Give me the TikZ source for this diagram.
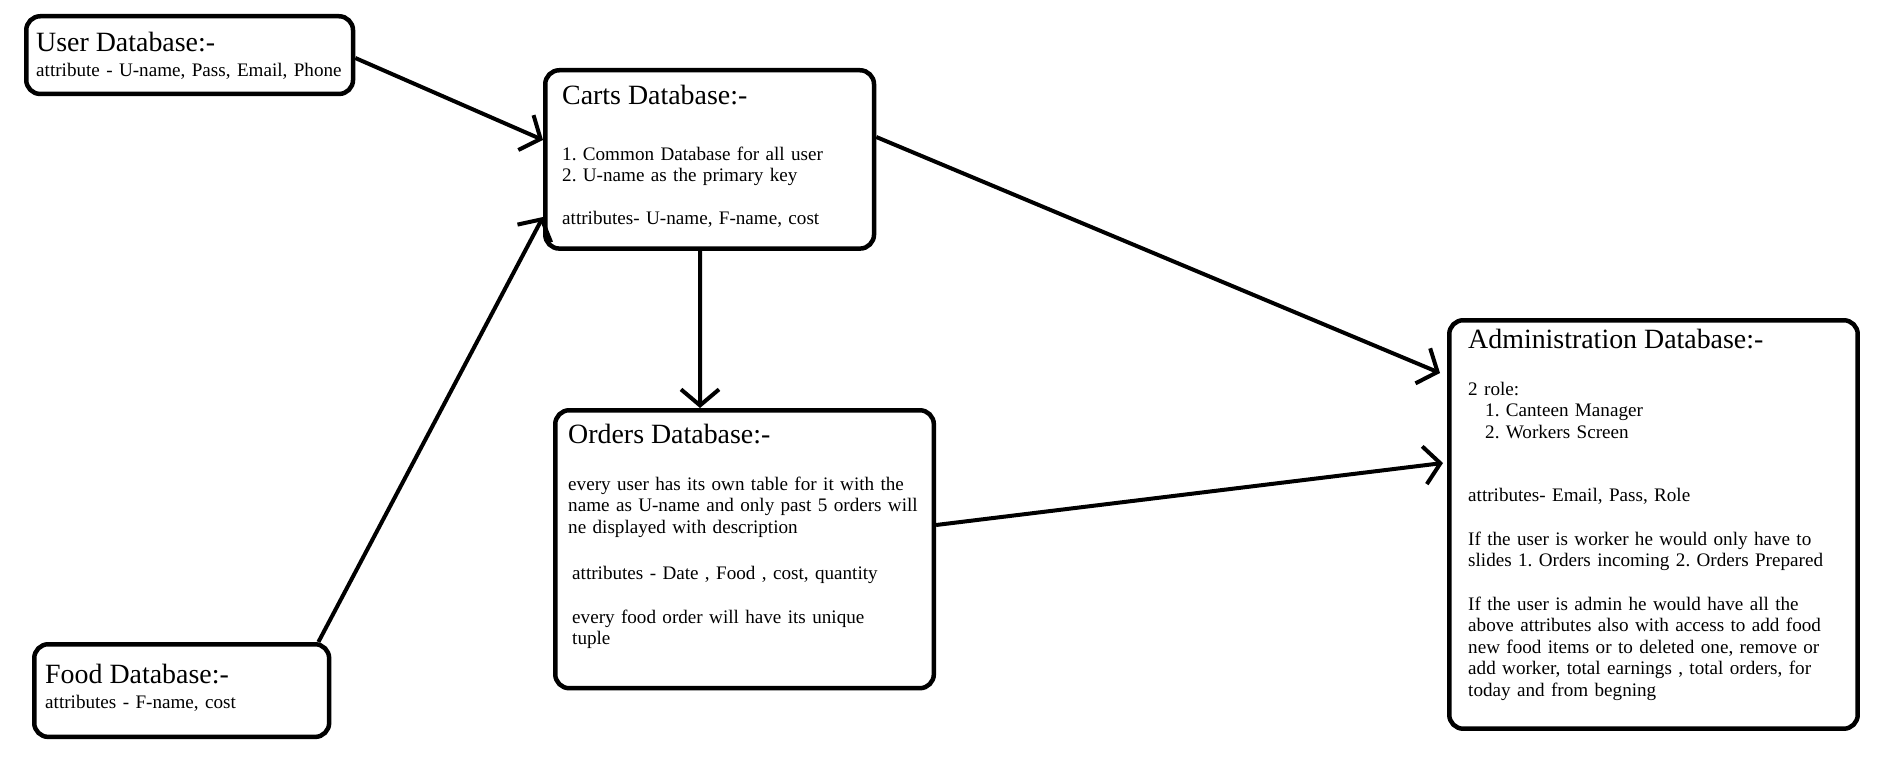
\documentclass[tikz,border=0pt]{standalone}
\usepackage{fontspec}
\setmainfont{Liberation Serif}
\usetikzlibrary{arrows.meta}
\frenchspacing

\tikzset{
  dbbox/.style={draw, line width=4.5bp, rounded corners=14bp, anchor=north west, inner sep=0pt},
  dbtitle/.style={anchor=base west, inner sep=0pt, font=\fontsize{28}{32}\selectfont},
  dbbody/.style={anchor=base west, inner sep=0pt, align=left, text width=420bp,
    font=\fontsize{19.2}{21.7}\selectfont},
  link/.style={line width=4bp, -{Straight Barb[length=16bp,width=38bp]}}
}

\begin{document}
\begin{tikzpicture}[x=1bp,y=-1bp]
\useasboundingbox (0,0) rectangle (1880,759);

% boxes
\node[dbbox, minimum width=328, minimum height=78] (user) at (24,14) {};
\node[dbbox, minimum width=330, minimum height=179] (carts) at (543,68) {};
\node[dbbox, minimum width=380, minimum height=279] (orders) at (553,408) {};
\node[dbbox, minimum width=410, minimum height=410] (admin) at (1447,318) {};
\node[dbbox, minimum width=296, minimum height=93] (food) at (32,642) {};

% user
\node[dbtitle] (usertitle) at (36,52) {User Database:-};
\node[dbbody] (userbody) at (36,77) {attribute - U-name, Pass, Email, Phone};

% carts
\node[dbtitle] (cartstitle) at (562,104) {Carts Database:-};
\node[dbbody] (cartsbody) at (562,160) {1. Common Database for all user\\
2. U-name as the primary key\\[21.7bp]
attributes- U-name, F-name, cost};

% orders
\node[dbtitle] (orderstitle) at (568,443) {Orders Database:-};
\node[dbbody] (ordersbody) at (568,490) {every user has its own table for it with the\\
name as U-name and only past 5 orders will\\
ne displayed with description\\[25bp]
\hspace*{4bp}attributes - Date , Food , cost, quantity\\[21.7bp]
\hspace*{4bp}every food order will have its unique\\
\hspace*{4bp}tuple};

% admin
\node[dbtitle] (admintitle) at (1468,348) {Administration Database:-};
\node[dbbody] (adminbody) at (1468,395) {2 role:\\
\hspace*{17bp}1. Canteen Manager\\
\hspace*{17bp}2. Workers Screen\\[42bp]
attributes- Email, Pass, Role\\[21.7bp]
If the user is worker he would only have to\\
slides 1. Orders incoming 2. Orders Prepared\\[21.7bp]
If the user is admin he would have all the\\
above attributes also with access to add food\\
new food items or to deleted one, remove or\\
add worker, total earnings , total orders, for\\
today and from begning};

% food
\node[dbtitle] (foodtitle) at (45,683) {Food Database:-};
\node[dbbody] (foodbody) at (45,708) {attributes - F-name, cost};

% links
\draw[link] ([yshift=-44bp]user.north east) -- ([yshift=-72bp]carts.north west);
\draw[link] ([xshift=-13bp]food.north east) -- ([yshift=-149bp]carts.north west);
\draw[link] ([xshift=157bp]carts.south west) -- ([xshift=147bp]orders.north west);
\draw[link] ([yshift=-69bp]carts.north east) -- ([shift={(-7bp,-55bp)}]admin.north west);
\draw[link] ([yshift=-117bp]orders.north east) -- ([shift={(-4bp,-145bp)}]admin.north west);
\end{tikzpicture}
\end{document}
